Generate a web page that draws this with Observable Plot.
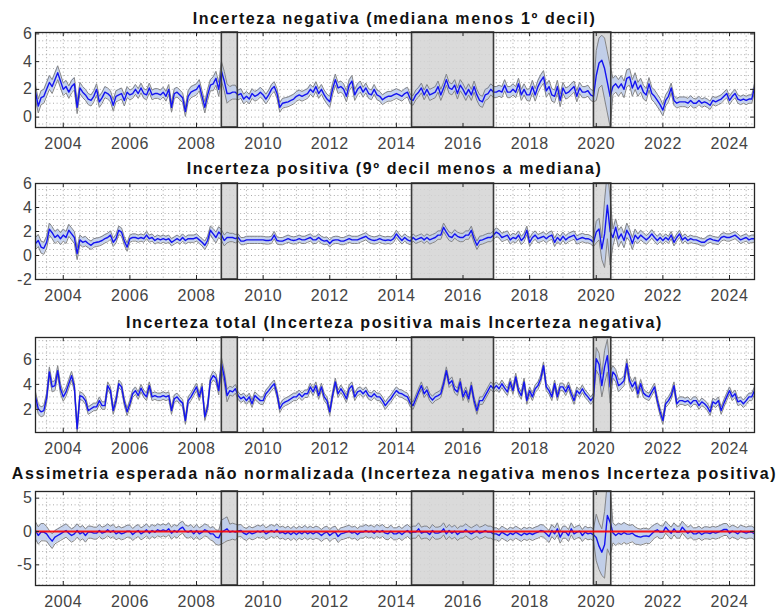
<!DOCTYPE html>
<html>
<head>
<meta charset="utf-8">
<script src="https://cdn.jsdelivr.net/npm/d3@7"></script>
<script src="https://cdn.jsdelivr.net/npm/@observablehq/plot@0.6"></script>
<style>
  html, body { margin: 0; padding: 0; background: #fff; }
  #chart { position: relative; width: 782px; height: 613px; overflow: hidden; font-family: "Liberation Sans", Arial, Helvetica, sans-serif; }
  .ttl { position: absolute; white-space: nowrap; font-weight: bold; font-size: 16px; line-height: 16px; color: #111; letter-spacing: 1.6px; transform: translateX(-50%); }
  .pnl { position: absolute; left: 0; }
</style>
</head>
<body>
<div id="chart"></div>
<script>
// ---------------- DATA (monthly, Mar 2003 – Oct 2024) ----------------
const startYear = 2003, startMonth = 3; // first observation: March 2003

const titles = [
  "Incerteza negativa (mediana menos 1º decil)",
  "Incerteza positiva (9º decil menos a mediana)",
  "Incerteza total (Incerteza positiva mais Incerteza negativa)",
  "Assimetria esperada não normalizada (Incerteza negativa menos Incerteza positiva)"
];

const xTicks = [2004, 2006, 2008, 2010, 2012, 2014, 2016, 2018, 2020, 2022, 2024];

// recession periods (shaded)
const recessionStart = [2008.76, 2014.47, 2019.93];
const recessionEnd   = [2009.24, 2016.93, 2020.45];

// Incerteza negativa
const negativa = [
  1.8,0.8,1.4,1.5,2.0,2.5,2.2,2.7,3.2,2.6,
  2.0,2.2,1.8,2.2,2.4,0.7,2.1,1.8,1.6,1.3,1.2,1.5,
  2.0,1.1,1.4,1.8,1.7,1.5,0.85,1.5,1.6,1.7,1.2,1.8,
  1.6,1.7,2.0,1.7,2.1,1.7,1.6,2.1,1.6,1.7,1.7,1.6,
  1.8,1.5,2.0,0.7,1.7,1.8,1.6,1.4,0.4,1.5,1.8,1.9,
  2.0,2.3,1.5,0.7,1.6,2.3,2.4,2.8,2.0,3.3,2.6,1.7,
  1.7,1.8,1.8,1.6,1.7,1.3,1.5,1.3,1.7,1.5,1.6,1.8,
  1.6,1.3,1.6,2.0,2.2,1.7,0.7,1.0,1.05,1.1,1.2,1.3,
  1.5,1.6,1.5,1.6,1.7,2.0,1.8,2.2,1.7,2.0,1.6,1.3,
  1.1,2.0,2.7,2.1,2.2,2.0,1.5,2.3,2.6,1.6,2.0,2.2,
  1.8,2.1,1.7,1.6,2.0,1.6,1.5,1.25,1.4,1.5,1.5,1.6,
  1.7,1.6,1.5,1.7,1.8,1.3,1.2,1.6,1.8,2.1,1.6,2.0,
  1.6,1.7,1.8,2.2,1.6,2.1,2.7,2.1,2.0,2.3,1.7,2.3,
  2.0,1.6,2.0,1.6,2.2,1.6,1.2,1.1,1.6,1.7,2.0,1.8,
  1.8,1.9,1.8,2.3,1.8,1.8,2.0,1.8,2.4,1.6,2.0,1.6,
  1.6,2.2,1.6,2.2,2.6,2.9,1.9,2.2,1.6,1.5,2.2,1.2,
  2.1,1.7,1.8,2.0,2.2,1.5,2.1,1.8,1.8,1.9,1.6,1.5,
  3.0,3.9,4.1,3.5,2.5,1.5,2.2,2.4,2.1,2.4,2.0,2.8,
  2.9,2.1,2.6,2.0,2.3,1.8,1.6,2.4,1.7,1.5,1.2,0.9,
  0.5,1.2,1.5,2.1,1.2,1.0,1.1,1.1,1.1,1.0,1.2,1.0,
  1.0,1.2,1.0,1.1,1.0,0.85,1.2,1.1,1.2,1.3,1.5,1.7,
  1.2,1.5,1.7,1.3,1.2,1.3,1.2,1.3,1.3,2.1
];

// Incerteza positiva
const positiva = [
  1.0,1.25,0.7,0.6,1.1,2.2,1.9,1.5,1.7,1.4,
  1.7,1.5,2.1,1.8,1.5,0.15,1.3,1.1,1.2,1.0,0.85,1.05,
  1.1,1.15,1.25,1.4,1.5,1.7,1.1,1.4,2.1,1.95,1.2,0.7,
  1.4,1.5,1.5,1.4,1.5,1.4,1.7,1.4,1.5,1.25,1.4,1.3,
  1.4,1.3,1.4,1.1,1.25,1.4,1.25,1.5,1.25,1.4,1.4,1.4,
  1.5,1.3,1.1,0.85,1.25,2.1,1.8,1.5,1.95,1.7,1.25,1.5,
  1.5,1.5,1.4,1.5,1.2,1.2,1.3,1.3,1.3,1.3,1.3,1.3,
  1.3,1.25,1.25,1.3,1.7,1.25,1.2,1.2,1.3,1.4,1.3,1.25,
  1.3,1.4,1.3,1.3,1.4,1.5,1.3,1.3,1.5,1.3,1.2,1.25,
  1.0,1.25,1.3,1.3,1.2,1.2,1.3,1.4,1.3,1.3,1.3,1.4,
  1.5,1.6,1.4,1.3,1.25,1.3,1.4,1.3,1.25,1.3,1.25,1.4,
  1.8,1.5,1.25,1.5,1.3,1.2,1.5,1.3,1.4,1.5,1.3,1.5,
  1.3,1.4,1.5,1.7,1.7,2.35,1.95,1.6,1.5,1.8,1.6,1.5,
  1.5,1.7,1.7,2.1,1.4,0.85,1.25,1.3,1.4,1.5,1.5,1.7,
  1.95,1.8,1.5,1.6,1.7,1.3,1.5,1.4,1.7,1.25,1.5,2.1,
  1.1,1.5,1.7,1.4,1.5,1.6,1.4,1.6,1.7,1.1,1.5,1.25,
  1.6,1.3,1.5,1.6,1.7,1.3,1.4,1.5,1.4,1.4,1.3,1.1,
  1.95,2.2,0.55,1.8,4.2,2.0,1.5,2.35,1.4,1.8,1.25,2.1,
  1.7,1.0,1.7,1.4,1.7,1.5,1.3,1.5,1.8,1.5,1.25,1.5,
  1.25,1.5,1.3,1.7,1.1,1.5,1.8,1.3,1.5,1.25,1.4,1.3,
  1.3,1.2,1.1,1.1,1.3,1.4,1.3,1.25,1.2,1.5,1.6,1.5,
  1.5,1.6,1.7,1.5,1.3,1.4,1.5,1.3,1.4,1.4
];

// Incerteza total
const total = [
  3.0,2.05,1.8,1.9,2.9,5.0,3.8,3.9,5.1,3.65,
  3.0,3.4,4.05,4.7,3.8,0.45,3.1,3.0,2.7,1.9,2.05,2.2,
  2.2,2.7,2.3,2.3,3.9,3.5,1.9,2.7,4.05,3.8,2.6,1.8,
  2.45,3.25,3.5,3.1,3.7,3.25,3.0,3.9,3.0,3.1,3.0,3.0,
  3.1,3.0,3.1,1.9,2.85,3.0,2.7,2.5,1.1,2.7,3.0,3.4,
  3.8,3.0,3.8,1.4,2.2,4.3,4.7,4.5,3.5,5.65,4.6,3.1,
  3.5,3.4,3.65,3.1,2.85,3.0,2.7,3.0,2.45,3.1,2.9,2.7,
  2.7,3.25,3.5,3.8,4.05,3.25,2.05,2.45,2.6,2.7,2.85,3.0,
  3.0,3.25,3.0,3.25,3.25,3.8,3.4,3.9,3.1,3.8,3.0,2.7,
  1.8,3.1,4.2,3.25,3.65,3.3,2.85,3.65,3.9,3.0,3.4,3.5,
  3.25,3.5,3.1,3.0,3.25,3.0,3.0,2.7,2.3,2.6,2.85,3.2,
  3.5,3.3,3.25,3.1,3.0,2.5,2.3,2.85,3.4,3.9,3.25,3.55,
  3.0,2.75,3.0,3.1,3.25,4.05,5.1,4.05,4.3,3.6,3.4,4.2,
  3.0,3.5,2.85,3.9,2.7,1.9,2.7,2.7,3.1,3.5,3.9,3.65,
  3.9,3.65,4.05,3.7,3.4,4.2,3.5,4.6,3.5,3.1,4.2,2.7,
  3.5,3.0,3.65,3.9,4.45,5.5,3.8,3.5,3.0,4.05,3.0,3.8,
  3.8,3.4,3.9,3.25,2.7,3.5,3.25,3.65,3.25,3.0,2.7,3.0,
  6.05,5.6,3.9,5.4,6.3,3.8,5.0,4.7,3.9,4.05,4.3,5.65,
  4.3,3.8,4.2,3.25,4.05,3.3,3.1,3.0,3.4,3.8,2.7,1.8,
  1.1,2.45,2.7,3.1,3.9,2.45,2.7,2.7,2.6,2.7,2.45,2.7,
  2.7,2.3,2.6,2.45,2.2,1.8,2.6,2.45,2.7,1.9,2.5,3.0,
  3.5,3.0,3.25,2.6,2.7,2.45,2.7,3.0,3.0,3.5
];

// Assimetria esperada não normalizada
const assimetria = [
  0.15,-0.6,-0.1,-0.1,-0.35,-0.95,-1.45,-0.85,-0.6,-0.35,
  -0.1,0.15,-0.25,-0.6,-0.35,0.15,-0.35,-0.1,-0.6,-0.1,-0.1,-0.25,
  -0.25,0.15,-0.25,-0.1,0.25,-0.1,0.15,-0.35,-0.1,-0.35,-0.2,0.05,
  0.05,-0.45,-0.1,0.15,-0.35,-0.1,0.25,-0.25,0.15,-0.1,0.25,0.05,
  0.25,0.05,0.4,-0.25,0.15,-0.1,0.4,0.65,0.05,-0.1,0.15,-0.35,
  0.15,-0.35,-0.1,0.25,0.05,-0.35,-0.35,-0.85,-0.95,-0.1,0.15,0.4,
  -0.1,0.05,-0.1,0.1,0.15,-0.25,-0.45,-0.1,-0.35,-0.2,0.05,-0.1,
  0.15,-0.35,-0.1,0.15,-0.1,0.25,-0.25,-0.1,-0.35,-0.1,-0.45,-0.1,
  -0.45,-0.1,-0.35,0,-0.35,-0.1,-0.35,-0.1,-0.25,-0.6,-0.25,-0.1,
  -0.6,-0.25,-0.1,-0.75,-0.35,-0.25,-0.1,0.05,-0.25,-0.1,-0.45,-0.1,
  -0.1,0.15,-0.1,0.05,-0.25,0.15,-0.1,0.15,-0.25,-0.35,0.05,-0.35,
  -0.35,-0.1,-0.45,-0.1,0.15,-0.25,-0.1,-0.1,0.4,-0.25,-0.1,-0.1,
  -0.45,0.15,-0.25,-0.25,-0.1,0.4,-0.35,0.15,-0.25,0.05,-0.45,-0.1,
  -0.1,0.25,-0.1,-0.35,-0.1,0.15,-0.25,-0.1,0.15,-0.1,-0.1,-0.35,
  -0.35,-0.6,-0.1,-0.35,-0.6,-0.25,-0.45,-0.1,-0.35,-0.6,-0.25,-0.45,
  -0.25,-0.45,-0.25,-0.1,0.15,0.05,-0.35,-0.75,0.15,-0.35,0.4,-0.85,
  -0.1,-0.1,-0.6,0.4,-0.35,-0.1,0.05,-0.6,-0.1,-0.35,-0.25,-0.5,
  -0.9,-2.2,-3.1,-2.0,2.4,1.4,-0.2,-0.6,-0.25,-0.45,-0.15,-0.4,
  -0.4,-0.25,-0.6,-0.75,-0.85,-0.7,-0.65,-0.75,-0.35,0.05,0.25,-0.1,
  -0.1,0.65,0.15,-0.25,0.4,-0.1,-0.1,0.65,0.15,-0.25,0.05,-0.35,
  -0.35,-0.1,-0.45,-0.2,-0.2,-0.3,-0.1,-0.25,-0.1,0.1,0.3,0.3,
  -0.25,0.05,-0.1,-0.35,0.05,-0.1,-0.25,-0.1,-0.1,-0.35
];

// half-width of the uncertainty band, by quarter (2003Q1 … 2024Q4)
const bandNegativa = [
  .5,.5,.5,.5, .45,.45,.4,.4, .4,.4,.4,.4, .35,.35,.35,.35, .35,.35,.35,.4,
  .4,.4,.5,.7, .5,.35,.35,.35, .35,.35,.35,.35, .35,.35,.35,.35, .4,.4,.4,.4,
  .35,.35,.35,.35, .35,.35,.35,.35, .4,.4,.4,.4, .4,.4,.4,.4, .4,.4,.4,.4,
  .45,.45,.45,.45, .4,.4,.4,.4, 1.8,2.2,.6,.6, .6,.5,.45,.45, .4,.35,.35,.35,
  .3,.3,.3,.3, .3,.3,.3,.3
];
const bandPositiva = [
  .5,.5,.5,.5, .5,.5,.4,.35, .35,.35,.35,.35, .3,.3,.3,.3, .3,.3,.3,.3,
  .3,.35,.45,.45, .35,.3,.3,.3, .3,.3,.3,.3, .3,.3,.3,.3, .3,.3,.3,.3,
  .3,.3,.3,.3, .3,.3,.3,.3, .35,.35,.35,.35, .35,.35,.35,.35, .35,.35,.35,.35,
  .35,.35,.35,.35, .35,.35,.35,.35, .9,2.8,.7,.6, .5,.4,.35,.35, .3,.3,.3,.3,
  .3,.3,.3,.3, .3,.3,.3,.3
];
const bandTotal = [
  .4,.4,.4,.4, .35,.35,.3,.3, .3,.3,.3,.3, .3,.3,.3,.3, .3,.3,.3,.3,
  .3,.3,.35,.5, .35,.3,.3,.3, .3,.3,.3,.3, .3,.3,.3,.3, .3,.3,.3,.3,
  .3,.3,.3,.3, .3,.3,.3,.3, .3,.3,.3,.3, .3,.3,.3,.3, .3,.3,.3,.3,
  .3,.3,.3,.3, .3,.3,.3,.3, .9,1.3,.5,.4, .4,.35,.3,.3, .3,.3,.3,.3,
  .3,.3,.3,.3, .3,.3,.3,.3
];
const bandAssimetria = [
  1.3,1.3,1.1,1.0, 1.0,1.0,1.0,.9, .9,.9,.9,.9, .9,.9,.9,.9, .9,.9,.9,.9,
  .9,.9,1.1,1.8, 1.2,.9,.9,.9, .9,.9,.9,.9, .9,.9,.9,.9, .9,.9,.9,.9,
  .9,.9,.9,.9, .9,.9,.9,.9, .9,.9,.9,.9, .9,.9,.9,.9, .9,.9,.9,.9,
  .9,.9,.9,.9, .9,.9,.9,.9, 3.5,5.0,1.5,1.5, 1.3,1.2,1.1,1.0, .9,.9,.9,.9,
  .9,.9,.9,.9, .9,.9,.9,.9
];

// ---------------- BUILD ----------------
const monthOffset = i => (startMonth - 1) + i;             // months since Jan of startYear
const timeOf = i => startYear + monthOffset(i) / 12;
const quarterOf = i => Math.floor(monthOffset(i) / 3);

function rows(values, band) {
  return values.map((v, i) => {
    const h = band[quarterOf(i)];
    return {t: timeOf(i), v, lo: v - h, hi: v + h};
  });
}
const recessions = recessionStart.map((s, i) => ({start: s, end: recessionEnd[i]}));
const xDomain = [timeOf(0), timeOf(negativa.length - 1)];

const panels = [
  {title: titles[0], data: rows(negativa, bandNegativa), yDomain: [-0.75, 6.1], yTicks: [0, 2, 4, 6], yMinorStep: 0.5, top: 32, bottom: 127, titleTop: 11, zero: false},
  {title: titles[1], data: rows(positiva, bandPositiva), yDomain: [-2, 6], yTicks: [-2, 0, 2, 4, 6], yMinorStep: 0.5, top: 183, bottom: 279, titleTop: 161, zero: false},
  {title: titles[2], data: rows(total, bandTotal), yDomain: [0.15, 7.75], yTicks: [2, 4, 6], yMinorStep: 0.5, top: 337, bottom: 432, titleTop: 315, zero: false},
  {title: titles[3], data: rows(assimetria, bandAssimetria), yDomain: [-8.1, 6], yTicks: [-5, 0, 5], yMinorStep: 1, top: 491, bottom: 585, titleTop: 466, zero: true}
];

const chart = document.getElementById("chart");
const mL = 35, mR = 28, W = 782;
const plotW = W - mL - mR;
const padTop = 8, padBottom = 28;
const frameColor = "#262626";
const gridStyle = {stroke: "#8a8a8a", strokeOpacity: 0.9, strokeWidth: 0.8, strokeDasharray: "1,2.6"};

panels.forEach(p => {
  const plotH = p.bottom - p.top;
  const xMinor = d3.range(Math.ceil(xDomain[0] * 2) / 2, xDomain[1], 0.5);
  const yMinor = d3.range(Math.ceil(p.yDomain[0] / p.yMinorStep) * p.yMinorStep, p.yDomain[1], p.yMinorStep);

  const marks = [
    Plot.gridX(xMinor, gridStyle),
    Plot.gridY(yMinor, gridStyle),
    Plot.rect(recessions, {x1: "start", x2: "end", fill: "#d4d4d4", fillOpacity: 0.85}),
    Plot.areaY(p.data, {x: "t", y1: "lo", y2: "hi", fill: "#bccbea", fillOpacity: 0.85, clip: true}),
    Plot.lineY(p.data, {x: "t", y: "lo", stroke: "#858585", strokeWidth: 1, clip: true}),
    Plot.lineY(p.data, {x: "t", y: "hi", stroke: "#858585", strokeWidth: 1, clip: true}),
    Plot.lineY(p.data, {x: "t", y: "v", stroke: "#1414f0", strokeWidth: 1.4, clip: true}),
    Plot.rect(recessions, {x1: "start", x2: "end", fill: "none", stroke: "#3a3a3a", strokeWidth: 1.6})
  ];
  if (p.zero) marks.push(Plot.ruleY([0], {stroke: "#ff0000", strokeWidth: 1.8, strokeOpacity: 0.9}));
  marks.push(
    Plot.frame({stroke: frameColor, strokeWidth: 1.3}),
    Plot.tickX(xTicks, {x: d => d, insetBottom: plotH - 4, stroke: frameColor, strokeWidth: 1}),
    Plot.tickX(xTicks, {x: d => d, insetTop: plotH - 4, stroke: frameColor, strokeWidth: 1}),
    Plot.tickY(p.yTicks, {y: d => d, insetRight: plotW - 4, stroke: frameColor, strokeWidth: 1}),
    Plot.tickY(p.yTicks, {y: d => d, insetLeft: plotW - 4, stroke: frameColor, strokeWidth: 1}),
    Plot.axisX({anchor: "bottom", ticks: xTicks, tickSize: 0, tickPadding: 10, tickFormat: d => String(d), label: null}),
    Plot.axisY({anchor: "left", ticks: p.yTicks, tickSize: 0, tickPadding: 3, tickFormat: d => String(d), label: null})
  );

  const svg = Plot.plot({
    width: W,
    height: plotH + padTop + padBottom,
    marginLeft: mL, marginRight: mR, marginTop: padTop, marginBottom: padBottom,
    x: {domain: xDomain, axis: null},
    y: {domain: p.yDomain, axis: null},
    style: {fontFamily: '"Liberation Sans", Arial, Helvetica, sans-serif', fontSize: "16px", color: "#444", background: "transparent", overflow: "visible", letterSpacing: "0.6px"},
    marks
  });
  svg.classList.add("pnl");
  svg.style.top = (p.top - padTop) + "px";
  chart.appendChild(svg);

  const t = document.createElement("div");
  t.className = "ttl";
  t.textContent = p.title;
  t.style.top = p.titleTop + "px";
  t.style.left = (mL + plotW / 2) + "px";
  chart.appendChild(t);
});
</script>
</body>
</html>
